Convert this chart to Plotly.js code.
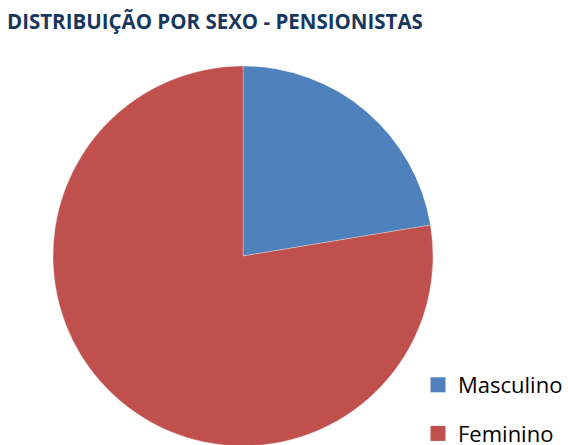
<!DOCTYPE html>
<html><head><meta charset="utf-8">
<script src="https://cdn.plot.ly/plotly-3.0.1.min.js"></script>
<style>html,body{margin:0;padding:0;overflow:hidden;background:#fff}#c{width:568px;height:480px}</style>
</head><body><div id="c"></div>
<script>
const categories = ["Masculino", "Feminino"];
const values = [22.4, 77.6];
const colors = ["#4F81BD", "#C0504D"];
const titleText = "DISTRIBUIÇÃO POR SEXO - PENSIONISTAS";

const W = 568, H = 480;
const traces = [{
  type: "pie",
  labels: categories,
  values: values,
  sort: false,
  direction: "clockwise",
  rotation: 0,
  textinfo: "none",
  hoverinfo: "label+percent",
  marker: {colors: colors, line: {color: "rgba(255,255,255,0.6)", width: 0.5}},
  showlegend: false,
  domain: {x: [53/W, 433/W], y: [1 - 446/H, 1 - 66/H]}
}];
categories.forEach((c, i) => {
  traces.push({
    type: "scatter", mode: "markers", x: [null], y: [null], name: c,
    legendgroup: c,
    marker: {symbol: "square", size: 15, color: colors[i]},
    hoverinfo: "skip"
  });
});

const layout = {
  width: W, height: H,
  margin: {l: 0, r: 0, t: 0, b: 0},
  paper_bgcolor: "#fff", plot_bgcolor: "#fff",
  title: {text: "<b>" + titleText + "</b>", x: 7/W, xanchor: "left", y: 1 - 22/H, yanchor: "middle",
          font: {family: "Open Sans, sans-serif", size: 20.5, weight: 800, color: "#17375E"}},
  xaxis: {visible: false}, yaxis: {visible: false},
  showlegend: true,
  legend: {x: 418/W, xanchor: "left", y: 1 - 364/H, yanchor: "top",
           tracegroupgap: 17, font: {family: "Open Sans, sans-serif", size: 22, color: "#000"},
           bgcolor: "rgba(0,0,0,0)"}
};
Plotly.newPlot("c", traces, layout, {displayModeBar: false, staticPlot: true});
</script></body></html>
